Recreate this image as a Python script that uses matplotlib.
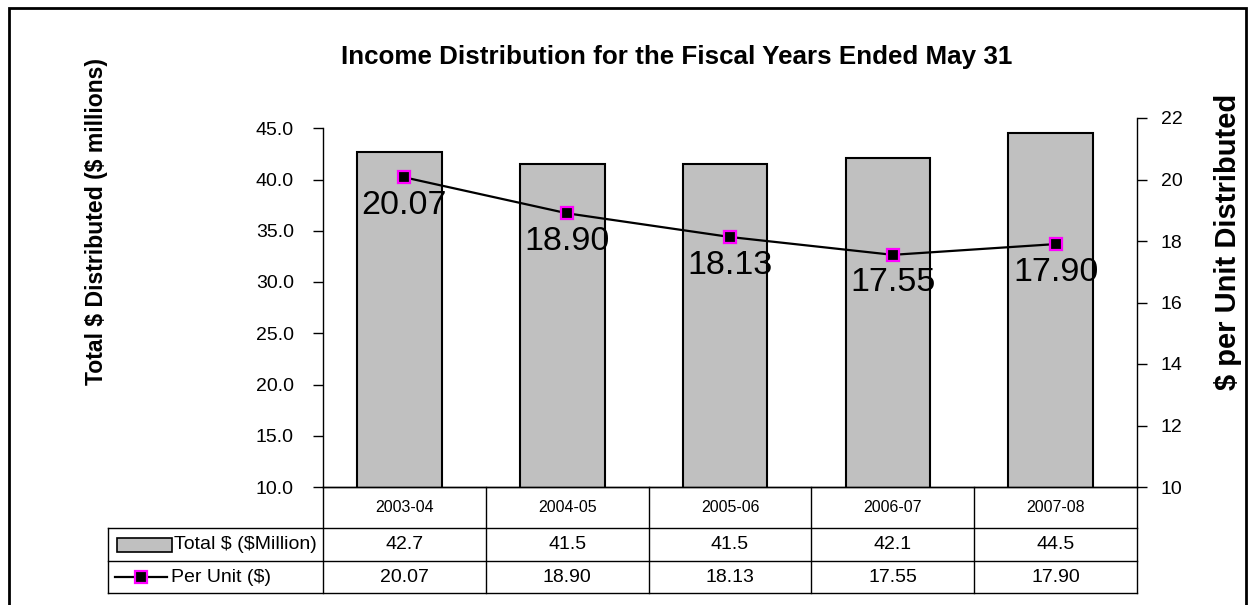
import matplotlib
matplotlib.use('Agg')
import matplotlib.pyplot as plt
from matplotlib.patches import Rectangle
from matplotlib.lines import Line2D
from matplotlib import font_manager

plt.rcParams['font.family'] = ['Liberation Sans', 'DejaVu Sans']

years = ['2003-04', '2004-05', '2005-06', '2006-07', '2007-08']
total_dist = [42.7, 41.5, 41.5, 42.1, 44.5]
per_unit = [20.07, 18.90, 18.13, 17.55, 17.90]
left_ticks = [10, 15, 20, 25, 30, 35, 40, 45]
right_ticks = [10, 12, 14, 16, 18, 20, 22]

W, H = 1249, 605
fig = plt.figure(figsize=(W / 100, H / 100), dpi=100)

# plot area in pixels (left, top, right, bottom)
L, T, R, B = 323, 118, 1137, 487
ax = fig.add_axes([L / W, 1 - B / H, (R - L) / W, (B - T) / H])
ax2 = ax.twinx()

x = list(range(len(years)))
ax.bar([xi - 0.03 for xi in x], total_dist, width=0.52, bottom=0, color='#c0c0c0',
       edgecolor='black', linewidth=1.5, zorder=2)
ax.set_xlim(-0.5, len(years) - 0.5)
ax.set_ylim(10, 46)
ax.set_yticks(left_ticks)
ax.set_yticklabels(['%.1f' % t for t in left_ticks], fontsize=14)
ax.spines['left'].set_bounds(10, 45)
ax.spines['top'].set_visible(False)
ax.spines['right'].set_visible(False)
ax.set_xticks([])
ax.tick_params(axis='y', direction='out', length=7, width=1, pad=14)

ax2.plot(x, per_unit, color='black', lw=1.6, marker='s', markersize=9,
         markerfacecolor='black', markeredgecolor='#ff00ff',
         markeredgewidth=1.6, zorder=3)
for xi, v in zip(x, per_unit):
    ax2.annotate('%.2f' % v, (xi, v), xytext=(0, -9), textcoords='offset points',
                 ha='center', va='top', fontsize=24.5)
ax2.set_ylim(10, 22)
ax2.set_yticks(right_ticks)
ax2.set_yticklabels([str(t) for t in right_ticks], fontsize=14)
ax2.tick_params(axis='y', direction='out', length=7, width=1, pad=10)
ax2.spines['top'].set_visible(False)
ax2.spines['left'].set_visible(False)
for s in ['left', 'right', 'bottom']:
    ax.spines[s].set_linewidth(1)
ax2.spines['right'].set_linewidth(1)
ax2.spines['bottom'].set_linewidth(1)


def ax_x(px):
    return (px - L) / (R - L)


def ax_y(py):
    return (B - py) / (B - T)


# table under the plot
row_y = [487, 528, 561, 593]
col_x = [L + i * (R - L) / 5 for i in range(6)]
lab_left = 108
kw = dict(transform=ax.transAxes, clip_on=False, color='black', lw=1)
for cx in col_x:
    ax.add_line(Line2D([ax_x(cx)] * 2, [ax_y(row_y[0]), ax_y(row_y[3])], **kw))
ax.add_line(Line2D([ax_x(lab_left)] * 2, [ax_y(row_y[1]), ax_y(row_y[3])], **kw))
for ry in row_y[1:]:
    ax.add_line(Line2D([ax_x(lab_left), ax_x(R)], [ax_y(ry)] * 2, **kw))

rows = [years, ['%.1f' % v for v in total_dist], ['%.2f' % v for v in per_unit]]
row_fs = [11.5, 14, 14]
for r, vals in enumerate(rows):
    yc = ax_y((row_y[r] + row_y[r + 1]) / 2)
    for c, v in enumerate(vals):
        xc = ax_x((col_x[c] + col_x[c + 1]) / 2)
        ax.text(xc, yc, v, transform=ax.transAxes, ha='center', va='center',
                fontsize=row_fs[r])

# legend keys in row label column
y1 = (row_y[1] + row_y[2]) / 2
ax.add_patch(Rectangle((ax_x(117), ax_y(y1 + 7)), ax_x(172) - ax_x(117),
                       ax_y(y1 - 7) - ax_y(y1 + 7), transform=ax.transAxes,
                       clip_on=False, facecolor='#c0c0c0', edgecolor='black', lw=1.2))
ax.text(ax_x(174), ax_y(y1), r'Total \$ (\$Million)', transform=ax.transAxes,
        ha='left', va='center', fontsize=14)
y2 = (row_y[2] + row_y[3]) / 2
ax.add_line(Line2D([ax_x(115), ax_x(167)], [ax_y(y2)] * 2, transform=ax.transAxes,
                   clip_on=False, color='black', lw=1.6))
ax.add_line(Line2D([ax_x(141)], [ax_y(y2)], transform=ax.transAxes, clip_on=False,
                   marker='s', markersize=8, markerfacecolor='black',
                   markeredgecolor='#ff00ff', markeredgewidth=1.6))
ax.text(ax_x(171), ax_y(y2), r'Per Unit (\$)', transform=ax.transAxes,
        ha='left', va='center', fontsize=14)

fig.text(677 / W, 1 - 57 / H, 'Income Distribution for the Fiscal Years Ended May 31',
         ha='center', va='center', fontsize=18.7, fontweight='bold')

# left axis title is narrower in the original; use the narrow face if present
names = {f.name for f in font_manager.fontManager.ttflist}
if 'Liberation Sans Narrow' in names:
    lfam, lfs = ['Liberation Sans Narrow'], 20.5
else:
    lfam, lfs = ['Liberation Sans'], 16.6
fig.text(97 / W, 1 - 221 / H, r'Total \$ Distributed (\$ millions)', rotation=90,
         ha='center', va='center', fontsize=lfs, fontweight='bold', family=lfam)
fig.text(1228 / W, 1 - 242 / H, r'\$ per Unit Distributed', rotation=90,
         ha='center', va='center', fontsize=21, fontweight='bold')

fig.patches.append(Rectangle((9 / W, -0.05), (1246 - 9) / W, (H - 8) / H + 0.05,
                             transform=fig.transFigure, fill=False,
                             edgecolor='black', lw=2))

fig.savefig('out.png', dpi=100)
